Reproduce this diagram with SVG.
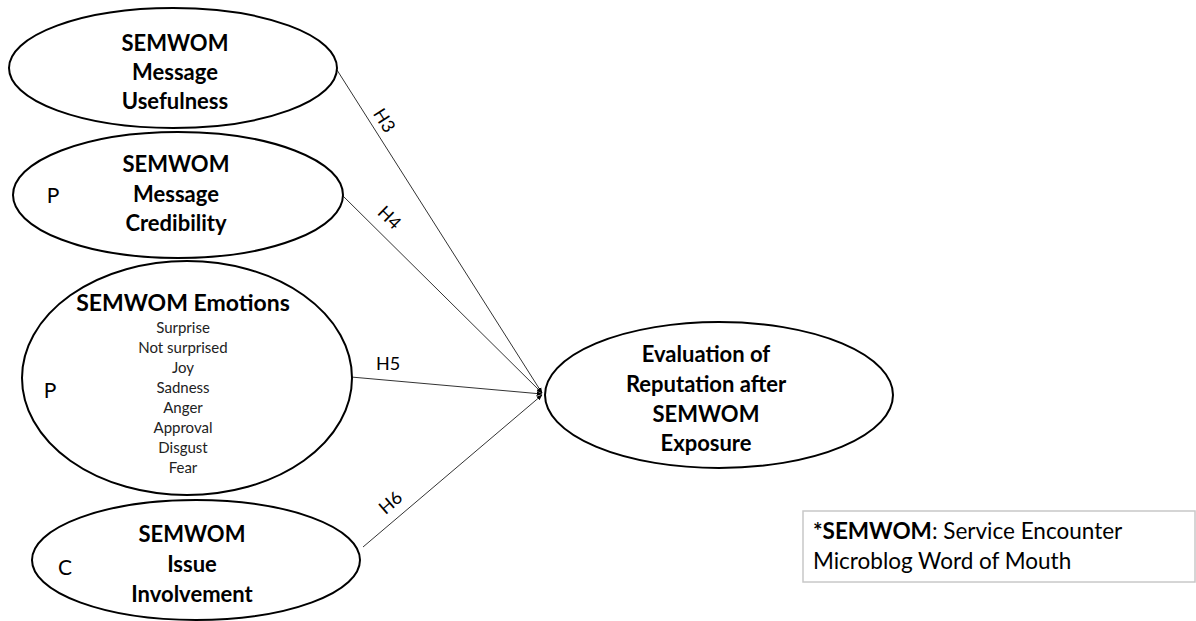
<svg xmlns="http://www.w3.org/2000/svg" width="1196" height="621" viewBox="0 0 1196 621">
<style>
.node{fill:#fff;stroke:#000;stroke-width:2}
.t{font-family:Lato,"Open Sans",sans-serif;font-weight:bold;font-size:22px;fill:#000;text-anchor:middle;dominant-baseline:central}
.e{font-size:23px}
.s{font-family:Lato,"Open Sans",sans-serif;font-size:15px;fill:#222;text-anchor:middle;dominant-baseline:central}
.l{font-family:Lato,"Open Sans",sans-serif;font-size:21px;fill:#000;text-anchor:middle;dominant-baseline:central}
.h{font-family:Lato,"Open Sans",sans-serif;font-size:18px;fill:#000;text-anchor:middle;dominant-baseline:central}
.c{stroke:#333;stroke-width:1;fill:none;marker-end:url(#a)}
.g{font-family:Lato,"Open Sans",sans-serif;font-size:22.5px;fill:#000}
</style>
<defs>
<marker id="a" viewBox="0 0 10 10" refX="9" refY="5" markerWidth="6" markerHeight="6" orient="auto" markerUnits="userSpaceOnUse">
<path d="M0,1 L10,5 L0,9 z" fill="#000"/>
</marker>
</defs>
<rect width="1196" height="621" fill="#fff"/>
<g id="connectors">
<line class="c" x1="337" y1="70" x2="542" y2="393"/>
<line class="c" x1="342" y1="195" x2="542" y2="393"/>
<line class="c" x1="351" y1="377" x2="542" y2="394"/>
<line class="c" x1="363" y1="547" x2="542" y2="395"/>
<text class="h" transform="translate(385,120) rotate(57.6)">H3</text>
<text class="h" transform="translate(390,217) rotate(44.7)">H4</text>
<text class="h" x="388" y="363">H5</text>
<text class="h" transform="translate(390,502) rotate(-40.7)">H6</text>
</g>
<g id="usefulness">
<ellipse class="node" cx="173" cy="68" rx="164" ry="60"/>
<text class="t" x="175" y="42">SEMWOM</text>
<text class="t" x="175" y="71">Message</text>
<text class="t" x="175" y="100">Usefulness</text>
</g>
<g id="credibility">
<ellipse class="node" cx="178" cy="195" rx="165" ry="63"/>
<text class="t" x="176" y="163">SEMWOM</text>
<text class="t" x="176" y="193">Message</text>
<text class="t" x="176" y="222">Credibility</text>
<text class="l" x="53" y="194">P</text>
</g>
<g id="emotions">
<ellipse class="node" cx="187" cy="378" rx="165" ry="117"/>
<text class="t e" x="183" y="302">SEMWOM Emotions</text>
<text class="s" x="183" y="327">Surprise</text>
<text class="s" x="183" y="347">Not surprised</text>
<text class="s" x="183" y="367">Joy</text>
<text class="s" x="183" y="387">Sadness</text>
<text class="s" x="183" y="407">Anger</text>
<text class="s" x="183" y="427">Approval</text>
<text class="s" x="183" y="447">Disgust</text>
<text class="s" x="183" y="467">Fear</text>
<text class="l" x="50" y="389">P</text>
</g>
<g id="involvement">
<ellipse class="node" cx="196" cy="560" rx="164" ry="60"/>
<text class="t" x="192" y="533">SEMWOM</text>
<text class="t" x="192" y="563">Issue</text>
<text class="t" x="192" y="593">Involvement</text>
<text class="l" x="65" y="566">C</text>
</g>
<g id="reputation">
<ellipse class="node" cx="719" cy="395" rx="174" ry="73"/>
<text class="t" x="706" y="353">Evaluation of</text>
<text class="t" x="706" y="383">Reputation after</text>
<text class="t" x="706" y="413">SEMWOM</text>
<text class="t" x="706" y="442">Exposure</text>
</g>
<g id="legend">
<rect x="803" y="511" width="392" height="71" fill="#fff" stroke="#c8c8c8" stroke-width="1.5"/>
<text class="g" x="813" y="539"><tspan font-weight="bold">*SEMWOM</tspan>: Service Encounter</text>
<text class="g" x="813" y="569">Microblog Word of Mouth</text>
</g>
</svg>
